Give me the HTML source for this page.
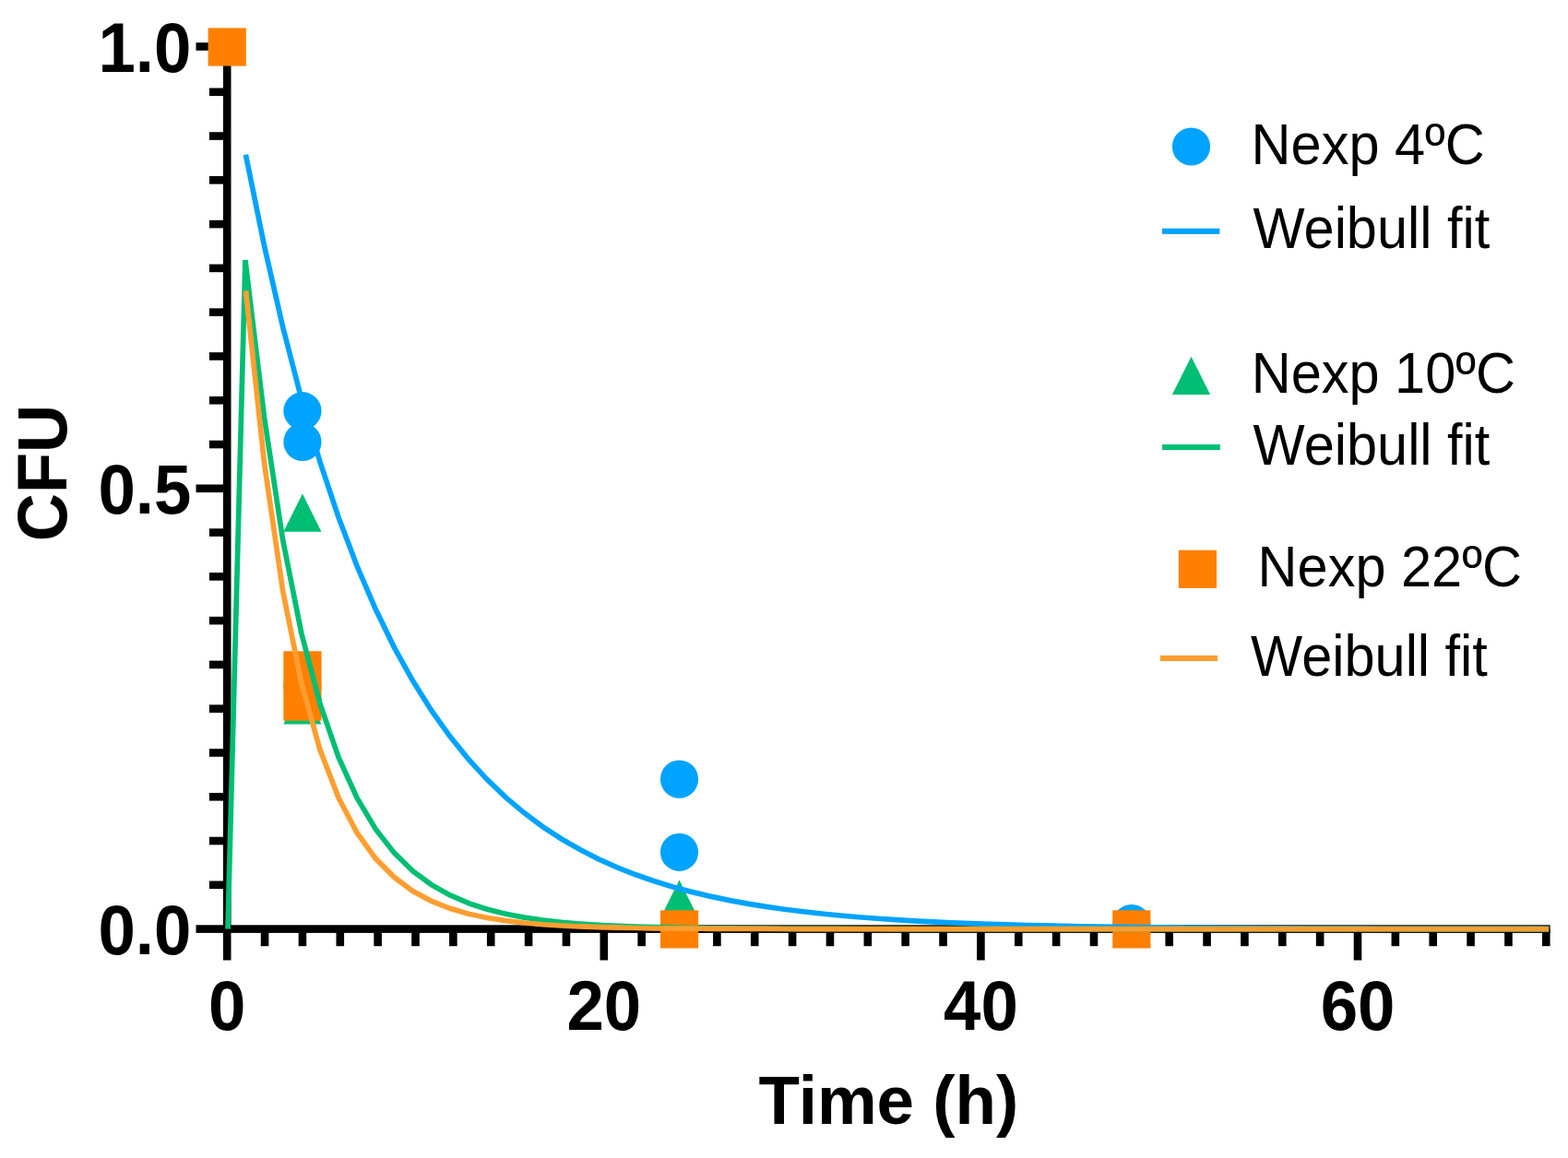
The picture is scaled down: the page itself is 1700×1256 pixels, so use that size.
<!DOCTYPE html><html><head><meta charset="utf-8"><title>CFU vs Time</title><style>html,body{margin:0;padding:0;background:#fff;overflow:hidden}svg{display:block}text{font-family:"Liberation Sans",Arial,sans-serif}</style></head><body>
<svg width="1700" height="1256" viewBox="0 0 1700 1256">
<rect width="1700" height="1256" fill="#fff"/>
<g fill="#000">
<rect x="241.90" y="46.20" width="8.60" height="965.70"/>
<rect x="241.90" y="1003.30" width="1438.70" height="8.60"/>
<rect x="212.50" y="1003.30" width="33.70" height="8.60"/>
<rect x="226.90" y="955.52" width="19.30" height="8.60"/>
<rect x="226.90" y="907.74" width="19.30" height="8.60"/>
<rect x="226.90" y="859.96" width="19.30" height="8.60"/>
<rect x="226.90" y="812.18" width="19.30" height="8.60"/>
<rect x="226.90" y="764.40" width="19.30" height="8.60"/>
<rect x="226.90" y="716.62" width="19.30" height="8.60"/>
<rect x="226.90" y="668.84" width="19.30" height="8.60"/>
<rect x="226.90" y="621.06" width="19.30" height="8.60"/>
<rect x="226.90" y="573.28" width="19.30" height="8.60"/>
<rect x="212.50" y="525.50" width="33.70" height="8.60"/>
<rect x="226.90" y="477.72" width="19.30" height="8.60"/>
<rect x="226.90" y="429.94" width="19.30" height="8.60"/>
<rect x="226.90" y="382.16" width="19.30" height="8.60"/>
<rect x="226.90" y="334.38" width="19.30" height="8.60"/>
<rect x="226.90" y="286.60" width="19.30" height="8.60"/>
<rect x="226.90" y="238.82" width="19.30" height="8.60"/>
<rect x="226.90" y="191.04" width="19.30" height="8.60"/>
<rect x="226.90" y="143.26" width="19.30" height="8.60"/>
<rect x="226.90" y="95.48" width="19.30" height="8.60"/>
<rect x="212.50" y="46.20" width="33.70" height="8.60"/>
<rect x="241.90" y="1007.60" width="8.60" height="33.90"/>
<rect x="282.76" y="1007.60" width="8.60" height="18.60"/>
<rect x="323.62" y="1007.60" width="8.60" height="18.60"/>
<rect x="364.48" y="1007.60" width="8.60" height="18.60"/>
<rect x="405.34" y="1007.60" width="8.60" height="18.60"/>
<rect x="446.20" y="1007.60" width="8.60" height="18.60"/>
<rect x="487.06" y="1007.60" width="8.60" height="18.60"/>
<rect x="527.92" y="1007.60" width="8.60" height="18.60"/>
<rect x="568.78" y="1007.60" width="8.60" height="18.60"/>
<rect x="609.64" y="1007.60" width="8.60" height="18.60"/>
<rect x="650.50" y="1007.60" width="8.60" height="33.90"/>
<rect x="691.36" y="1007.60" width="8.60" height="18.60"/>
<rect x="732.22" y="1007.60" width="8.60" height="18.60"/>
<rect x="773.08" y="1007.60" width="8.60" height="18.60"/>
<rect x="813.94" y="1007.60" width="8.60" height="18.60"/>
<rect x="854.80" y="1007.60" width="8.60" height="18.60"/>
<rect x="895.66" y="1007.60" width="8.60" height="18.60"/>
<rect x="936.52" y="1007.60" width="8.60" height="18.60"/>
<rect x="977.38" y="1007.60" width="8.60" height="18.60"/>
<rect x="1018.24" y="1007.60" width="8.60" height="18.60"/>
<rect x="1059.10" y="1007.60" width="8.60" height="33.90"/>
<rect x="1099.96" y="1007.60" width="8.60" height="18.60"/>
<rect x="1140.82" y="1007.60" width="8.60" height="18.60"/>
<rect x="1181.68" y="1007.60" width="8.60" height="18.60"/>
<rect x="1222.54" y="1007.60" width="8.60" height="18.60"/>
<rect x="1263.40" y="1007.60" width="8.60" height="18.60"/>
<rect x="1304.26" y="1007.60" width="8.60" height="18.60"/>
<rect x="1345.12" y="1007.60" width="8.60" height="18.60"/>
<rect x="1385.98" y="1007.60" width="8.60" height="18.60"/>
<rect x="1426.84" y="1007.60" width="8.60" height="18.60"/>
<rect x="1467.70" y="1007.60" width="8.60" height="33.90"/>
<rect x="1508.56" y="1007.60" width="8.60" height="18.60"/>
<rect x="1549.42" y="1007.60" width="8.60" height="18.60"/>
<rect x="1590.28" y="1007.60" width="8.60" height="18.60"/>
<rect x="1631.14" y="1007.60" width="8.60" height="18.60"/>
<rect x="1672.00" y="1007.60" width="8.60" height="18.60"/>
</g>
<g font-weight="bold" font-size="72.60" fill="#000">
<text text-anchor="end" transform="translate(207.30,77.90) scale(1,1.0440)">1.0</text>
<text text-anchor="end" transform="translate(207.30,557.00) scale(1,1.0440)">0.5</text>
<text text-anchor="end" transform="translate(207.30,1034.80) scale(1,1.0440)">0.0</text>
<text text-anchor="middle" transform="translate(246.20,1117.30) scale(1,1.0440)">0</text>
<text text-anchor="middle" transform="translate(654.80,1117.30) scale(1,1.0440)">20</text>
<text text-anchor="middle" transform="translate(1063.40,1117.30) scale(1,1.0440)">40</text>
<text text-anchor="middle" transform="translate(1472.00,1117.30) scale(1,1.0440)">60</text>
</g>
<text font-weight="bold" font-size="72.2" text-anchor="middle" transform="translate(71.6,513.0) rotate(-90) scale(1,1.053)">CFU</text>
<text font-weight="bold" font-size="72.8" text-anchor="middle" transform="translate(963.4,1218.75) scale(1,1.018)">Time (h)</text>
<circle cx="327.92" cy="445.70" r="20.60" fill="rgb(0,163,255)"/>
<circle cx="327.92" cy="479.40" r="20.60" fill="rgb(0,163,255)"/>
<circle cx="736.52" cy="845.10" r="20.60" fill="rgb(0,163,255)"/>
<circle cx="736.52" cy="924.30" r="20.60" fill="rgb(0,163,255)"/>
<circle cx="1226.84" cy="1001.50" r="20.60" fill="rgb(0,163,255)"/>
<polygon points="327.92,535.50 348.52,576.70 307.32,576.70" fill="rgb(0,190,115)"/>
<polygon points="327.92,744.20 348.52,785.40 307.32,785.40" fill="rgb(0,190,115)"/>
<polygon points="736.52,954.60 757.12,995.80 715.92,995.80" fill="rgb(0,190,115)"/>
<polygon points="1226.84,984.60 1247.44,1025.80 1206.24,1025.80" fill="rgb(0,190,115)"/>
<rect x="225.60" y="30.40" width="41.20" height="41.20" fill="rgb(255,128,0)"/>
<rect x="307.32" y="706.30" width="41.20" height="41.20" fill="rgb(255,128,0)"/>
<rect x="307.32" y="740.50" width="41.20" height="41.20" fill="rgb(255,128,0)"/>
<rect x="715.92" y="987.30" width="41.20" height="41.20" fill="rgb(255,128,0)"/>
<rect x="1206.24" y="987.30" width="41.20" height="41.20" fill="rgb(255,128,0)"/>
<polyline points="266.40,167.70 286.48,266.43 306.63,354.66 326.77,432.37 346.91,500.84 367.05,561.15 387.20,614.28 407.34,661.08 427.48,702.32 447.62,738.64 467.76,770.65 487.91,798.84 508.05,823.68 528.19,845.56 548.33,864.84 568.48,881.83 588.62,896.79 608.76,909.98 628.90,921.59 649.05,931.82 669.19,940.84 689.33,948.78 709.47,955.78 729.61,961.94 749.76,967.37 769.90,972.16 790.04,976.38 810.18,980.09 830.33,983.36 850.47,986.25 870.61,988.79 890.75,991.02 910.89,993.00 931.04,994.73 951.18,996.26 971.32,997.61 991.46,998.80 1011.61,999.85 1031.75,1000.77 1051.89,1001.58 1072.03,1002.30 1092.17,1002.93 1112.32,1003.48 1132.46,1003.97 1152.60,1004.40 1172.74,1004.78 1192.89,1005.12 1213.03,1005.41 1233.17,1005.67 1253.31,1005.90 1273.45,1006.11 1293.60,1006.28 1313.74,1006.44 1333.88,1006.58 1354.02,1006.70 1374.17,1006.81 1394.31,1006.90 1414.45,1006.98 1434.59,1007.06 1454.74,1007.12 1474.88,1007.18 1495.02,1007.23 1515.16,1007.27 1535.30,1007.31 1555.45,1007.35 1575.59,1007.38 1595.73,1007.40 1615.87,1007.43 1636.02,1007.45 1656.16,1007.47 1676.30,1007.48 1679.16,1007.48" fill="none" stroke="rgb(0,163,255)" stroke-width="5.70" stroke-linejoin="miter" stroke-miterlimit="4" stroke-linecap="butt"/>
<polyline points="247.00,1007.60 265.90,282.00 286.48,452.37 306.63,585.62 326.77,686.60 346.91,763.24 367.05,821.48 387.20,865.78 407.34,899.49 427.48,925.16 447.62,944.72 467.76,959.62 487.91,970.98 508.05,979.65 528.19,986.26 548.33,991.30 568.48,995.15 588.62,998.09 608.76,1000.34 628.90,1002.05 649.05,1003.36 669.19,1004.36 689.33,1005.12 709.47,1005.70 729.61,1006.15 749.76,1006.49 769.90,1006.75 790.04,1006.95 810.18,1007.10 830.33,1007.22 850.47,1007.31 870.61,1007.38 890.75,1007.43 910.89,1007.47 931.04,1007.50 951.18,1007.52 971.32,1007.54 991.46,1007.56 1011.61,1007.57 1031.75,1007.57 1051.89,1007.58 1072.03,1007.58 1092.17,1007.59 1112.32,1007.59 1132.46,1007.59 1152.60,1007.59 1172.74,1007.60 1192.89,1007.60 1213.03,1007.60 1233.17,1007.60 1253.31,1007.60 1273.45,1007.60 1293.60,1007.60 1313.74,1007.60 1333.88,1007.60 1354.02,1007.60 1374.17,1007.60 1394.31,1007.60 1414.45,1007.60 1434.59,1007.60 1454.74,1007.60 1474.88,1007.60 1495.02,1007.60 1515.16,1007.60 1535.30,1007.60 1555.45,1007.60 1575.59,1007.60 1595.73,1007.60 1615.87,1007.60 1636.02,1007.60 1656.16,1007.60 1676.30,1007.60 1679.16,1007.60" fill="none" stroke="rgb(0,190,115)" stroke-width="5.70" stroke-linejoin="miter" stroke-miterlimit="4" stroke-linecap="butt"/>
<polyline points="266.50,315.40 286.48,501.78 306.63,640.83 326.77,740.76 346.91,812.98 367.05,865.38 387.20,903.50 407.34,931.30 427.48,951.61 447.62,966.47 467.76,977.35 487.91,985.34 508.05,991.20 528.19,995.51 548.33,998.69 568.48,1001.02 588.62,1002.74 608.76,1004.01 628.90,1004.95 649.05,1005.64 669.19,1006.15 689.33,1006.52 709.47,1006.80 729.61,1007.01 749.76,1007.16 769.90,1007.28 790.04,1007.36 810.18,1007.42 830.33,1007.47 850.47,1007.50 870.61,1007.53 890.75,1007.55 910.89,1007.56 931.04,1007.57 951.18,1007.58 971.32,1007.58 991.46,1007.59 1011.61,1007.59 1031.75,1007.59 1051.89,1007.59 1072.03,1007.60 1092.17,1007.60 1112.32,1007.60 1132.46,1007.60 1152.60,1007.60 1172.74,1007.60 1192.89,1007.60 1213.03,1007.60 1233.17,1007.60 1253.31,1007.60 1273.45,1007.60 1293.60,1007.60 1313.74,1007.60 1333.88,1007.60 1354.02,1007.60 1374.17,1007.60 1394.31,1007.60 1414.45,1007.60 1434.59,1007.60 1454.74,1007.60 1474.88,1007.60 1495.02,1007.60 1515.16,1007.60 1535.30,1007.60 1555.45,1007.60 1575.59,1007.60 1595.73,1007.60 1615.87,1007.60 1636.02,1007.60 1656.16,1007.60 1676.30,1007.60 1679.16,1007.60" fill="none" stroke="rgb(255,158,48)" stroke-width="5.70" stroke-linejoin="miter" stroke-miterlimit="4" stroke-linecap="butt"/>
<circle cx="1291.50" cy="159.00" r="20.60" fill="rgb(0,163,255)"/>
<rect x="1260" y="247.75" width="62.4" height="6.10" fill="rgb(0,163,255)"/>
<polygon points="1291.50,386.80 1312.10,428.00 1270.90,428.00" fill="rgb(0,190,115)"/>
<rect x="1260.1" y="482.05" width="62.7" height="6.10" fill="rgb(0,190,115)"/>
<rect x="1277.80" y="596.70" width="41.20" height="41.20" fill="rgb(255,128,0)"/>
<rect x="1257.9" y="710.95" width="62.2" height="6.10" fill="rgb(255,158,48)"/>
<text font-size="59.50" transform="translate(1356.60,177.60) scale(1,1.0550)">Nexp 4ºC</text>
<text font-size="59.50" transform="translate(1358.50,269.40) scale(1,1.0550)">Weibull fit</text>
<text font-size="59.50" transform="translate(1356.70,425.90) scale(1,1.0550)">Nexp 10ºC</text>
<text font-size="59.50" transform="translate(1358.60,503.70) scale(1,1.0550)">Weibull fit</text>
<text font-size="59.50" transform="translate(1363.60,635.70) scale(1,1.0550)">Nexp 22ºC</text>
<text font-size="59.50" transform="translate(1356.10,732.50) scale(1,1.0550)">Weibull fit</text>
</svg></body></html>
